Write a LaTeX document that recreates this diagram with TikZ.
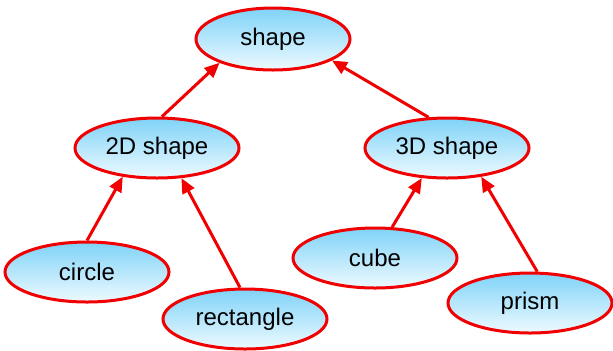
\documentclass[tikz,border=0pt]{standalone}
\usepackage{fontspec}
\setmainfont{Liberation Sans}
\usepackage{tikz}
\usetikzlibrary{shapes.geometric,arrows.meta}
\definecolor{skyTop}{HTML}{7FD3F8}
\definecolor{skyBot}{HTML}{EEFAFF}
\definecolor{lineRed}{HTML}{F00000}
\tikzset{
    kind/.style={ellipse, draw=lineRed, line width=1.5pt, inner sep=0pt,
        top color=skyTop, bottom color=skyBot,
        minimum width=82pt, minimum height=30pt,
        font=\fontsize{12}{14}\selectfont},
    isa/.style={draw=lineRed, line width=1.5pt,
        -{Triangle[length=7.5pt,width=6.5pt]}}
}
\begin{document}
\begin{tikzpicture}[x=0.5pt, y=0.5pt]
    \useasboundingbox (0,0) rectangle (613,350);
    % Nodes
    \node[kind, minimum width=77pt, minimum height=31pt] (shape) at (273,311) {shape};
    \node[kind] (flat) at (157,202) {2D shape};
    \node[kind] (solid) at (447,202) {3D shape};
    \node[kind] (circle) at (87,78) {circle};
    \node[kind] (rectangle) at (245,31) {rectangle};
    \node[kind] (cube) at (375,92) {cube};
    \node[kind] (prism) at (530,47) {prism};
    % Arrows
    \draw[isa] (flat.81) -- (shape.204);
    \draw[isa] (solid.121) -- (shape.340);
    \draw[isa] (circle.90) -- (flat.220);
    \draw[isa] (rectangle.99) -- (flat.309);
    \draw[isa] (cube.61) -- (solid.230);
    \draw[isa] (prism.77) -- (solid.320);
\end{tikzpicture}
\end{document}
